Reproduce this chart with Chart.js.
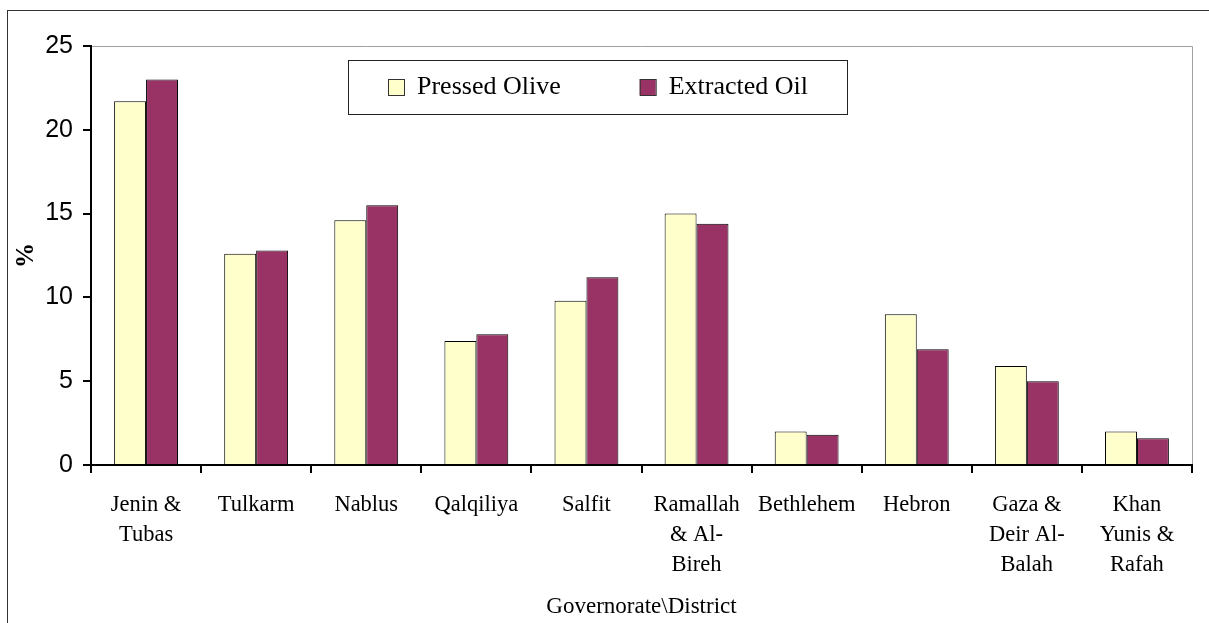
<!DOCTYPE html>
<html>
<head>
<meta charset="utf-8">
<title>Pressed Olive and Extracted Oil by Governorate</title>
<script src="https://cdn.jsdelivr.net/npm/chart.js@4/dist/chart.umd.min.js"></script>
<style>
  html, body { margin: 0; padding: 0; background: #fff; }
  canvas { display: block; }
</style>
</head>
<body>
<canvas id="oliveChart" width="1209" height="623"></canvas>
<script>
// Governorates / districts (multi-line labels as in the source)
const districts = [
    ["Jenin &", "Tubas"],
    ["Tulkarm"],
    ["Nablus"],
    ["Qalqiliya"],
    ["Salfit"],
    ["Ramallah", "& Al-", "Bireh"],
    ["Bethlehem"],
    ["Hebron"],
    ["Gaza &", "Deir Al-", "Balah"],
    ["Khan", "Yunis &", "Rafah"]
];

// Percentages
const pressedOlive = [21.7, 12.6, 14.6, 7.4, 9.8, 15.0, 2.0, 9.0, 5.9, 2.0];
const extractedOil = [23.0, 12.8, 15.5, 7.8, 11.2, 14.4, 1.8, 6.9, 5.0, 1.6];

const yTicks = [0, 5, 10, 15, 20, 25];

const SERIF = "'Liberation Serif', 'Times New Roman', serif";

// Outer frame + grey plot-area border (top and right)
const framePlugin = {
    id: "frame",
    beforeDraw(chart) {
        const ctx = chart.ctx;
        ctx.save();
        ctx.strokeStyle = "#333";
        ctx.lineWidth = 1;
        ctx.strokeRect(7.5, 10.5, chart.width + 20, chart.height + 20);
        const a = chart.chartArea;
        ctx.strokeStyle = "#a0a0a0";
        ctx.beginPath();
        ctx.moveTo(a.left, a.top + 0.5);
        ctx.lineTo(a.right + 0.5, a.top + 0.5);
        ctx.lineTo(a.right + 0.5, a.bottom);
        ctx.stroke();
        ctx.restore();
    }
};

// Legend drawn inside the plot area, in a framed box
const boxLegendPlugin = {
    id: "boxLegend",
    afterDraw(chart) {
        const ctx = chart.ctx;
        const sets = chart.data.datasets;
        const a = chart.chartArea;
        ctx.save();
        ctx.font = "26px " + SERIF;
        const marker = 16, gapText = 13, gapItem = 79, padL = 40, padR = 39;
        const widths = sets.map(d => ctx.measureText(d.label).width);
        let total = padL + padR + gapItem * (sets.length - 1);
        widths.forEach(w => { total += marker + gapText + w; });
        const boxH = 54;
        const boxLeft = Math.round(chart.width / 2 - 7 - total / 2);
        const boxTop = Math.round(a.top + 14);
        ctx.fillStyle = "#fff";
        ctx.fillRect(boxLeft, boxTop, total, boxH);
        ctx.strokeStyle = "#222";
        ctx.lineWidth = 1;
        ctx.strokeRect(boxLeft + 0.5, boxTop + 0.5, Math.round(total), boxH);
        const cy = boxTop + boxH / 2;
        let x = boxLeft + padL;
        sets.forEach((d, i) => {
            ctx.fillStyle = d.backgroundColor;
            ctx.fillRect(x, cy - marker / 2, marker, marker);
            ctx.strokeStyle = "#333";
            ctx.strokeRect(x + 0.5, cy - marker / 2 + 0.5, marker, marker);
            x += marker + gapText;
            ctx.fillStyle = "#000";
            ctx.textBaseline = "middle";
            ctx.fillText(d.label, x, cy);
            x += widths[i] + gapItem;
        });
        ctx.restore();
    }
};

const ctx = document.getElementById("oliveChart").getContext("2d");
new Chart(ctx, {
    type: "bar",
    data: {
        labels: districts,
        datasets: [{
            label: "Pressed Olive",
            data: pressedOlive,
            backgroundColor: "#FFFFCC",
            borderColor: "#000",
            borderWidth: 1
        }, {
            label: "Extracted Oil",
            data: extractedOil,
            backgroundColor: "#993366",
            borderColor: "#000",
            borderWidth: 1
        }]
    },
    options: {
        responsive: false,
        animation: false,
        devicePixelRatio: 1,
        layout: { padding: { left: 0, top: 46, right: 17, bottom: 0 } },
        datasets: {
            bar: { categoryPercentage: 0.58, barPercentage: 1.0 }
        },
        scales: {
            x: {
                grid: {
                    offset: true,
                    drawOnChartArea: false,
                    drawTicks: true,
                    tickLength: 8,
                    color: "#000",
                    lineWidth: 2
                },
                border: { color: "#000", width: 2 },
                ticks: {
                    color: "#000",
                    padding: 17,
                    maxRotation: 0,
                    autoSkip: false,
                    font: { family: SERIF, size: 22.5, lineHeight: 1.333 }
                },
                title: {
                    display: true,
                    text: "Governorate\\District",
                    color: "#000",
                    padding: { top: 0, bottom: 2 },
                    font: { family: SERIF, size: 23 }
                },
                afterFit: s => { s.height = 158; }
            },
            y: {
                min: 0,
                max: 25,
                afterBuildTicks: s => { s.ticks = yTicks.map(v => ({ value: v })); },
                grid: {
                    drawOnChartArea: false,
                    drawTicks: true,
                    tickLength: 8,
                    color: "#000",
                    lineWidth: 2
                },
                border: { color: "#000", width: 2 },
                ticks: {
                    color: "#000",
                    padding: 10,
                    font: { family: "'Liberation Sans', Arial, sans-serif", size: 25 }
                },
                title: {
                    display: true,
                    text: "%",
                    color: "#000",
                    padding: { top: 12, bottom: 0 },
                    font: { family: SERIF, size: 25, weight: "bold" }
                },
                afterFit: s => { s.width = 91; }
            }
        },
        plugins: {
            legend: { display: false },
            tooltip: { enabled: false }
        }
    },
    plugins: [framePlugin, boxLegendPlugin]
});
</script>
</body>
</html>
